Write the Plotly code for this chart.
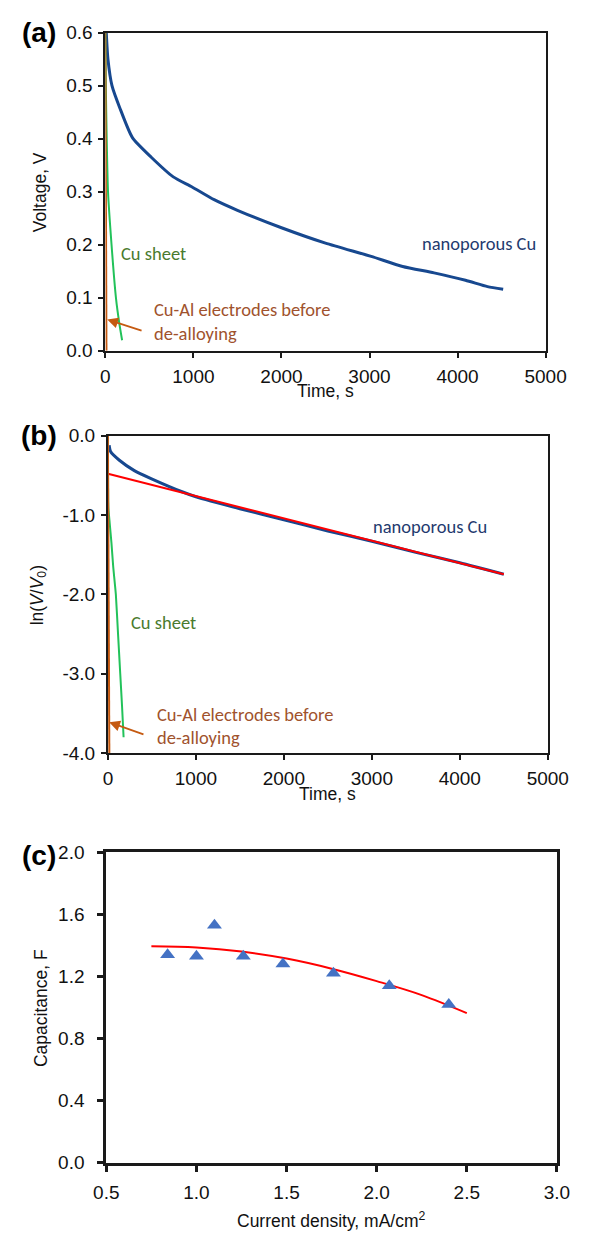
import plotly.graph_objects as go

W, H = 593, 1239

# ---------------- Panel (a): Voltage vs time ----------------
a_np_t = [10, 29, 75, 164, 307, 521, 771, 985, 1235, 1500, 2000, 2500, 3019, 3376, 3733, 4090, 4340, 4518]
a_np_v = [0.600, 0.550, 0.500, 0.458, 0.402, 0.365, 0.328, 0.309, 0.285, 0.265, 0.232, 0.203, 0.178, 0.159, 0.147, 0.133, 0.121, 0.116]
a_cu_t = [0, 5, 15, 30, 70, 120, 160, 190]
a_cu_v = [0.60, 0.50, 0.40, 0.30, 0.20, 0.10, 0.05, 0.02]
a_al_t = [0, 3, 6, 9, 12]
a_al_v = [0.60, 0.40, 0.20, 0.05, 0.00]

# ---------------- Panel (b): ln(V/V0) vs time ----------------
b_np_t = [14, 30, 130, 300, 490, 850, 1000, 1500, 2000, 2500, 3000, 3500, 4000, 4500]
b_np_l = [-0.12, -0.20, -0.31, -0.44, -0.54, -0.71, -0.77, -0.92, -1.06, -1.20, -1.33, -1.47, -1.60, -1.745]
b_fit_t = [0, 4500]
b_fit_l = [-0.48, -1.745]
b_cu_t = [0, 5, 20, 40, 60, 90, 115, 140, 160, 178]
b_cu_l = [0.0, -0.9, -1.1, -1.35, -1.65, -2.0, -2.5, -3.0, -3.4, -3.8]
b_al_t = [0, 4, 8, 12, 16]
b_al_l = [0.0, -1.0, -2.0, -3.0, -4.0]

# ---------------- Panel (c): capacitance vs current density ----------------
c_j = [0.84, 1.00, 1.10, 1.26, 1.48, 1.76, 2.07, 2.40]
c_cap = [1.34, 1.33, 1.53, 1.33, 1.28, 1.22, 1.14, 1.02]
c_fit_j = [0.75, 1.00, 1.25, 1.50, 1.75, 2.00, 2.25, 2.50]
c_fit_cap = [1.394, 1.386, 1.360, 1.315, 1.250, 1.170, 1.080, 0.964]

time_ticks = [0, 1000, 2000, 3000, 4000, 5000]
a_yticks = [0.0, 0.1, 0.2, 0.3, 0.4, 0.5, 0.6]
b_yticks = [0.0, -1.0, -2.0, -3.0, -4.0]
b_yticktext = ['0.0', '-1.0', '-2.0', '-3.0', '-4.0']
c_xticks = [0.5, 1.0, 1.5, 2.0, 2.5, 3.0]
c_yticks = [0.0, 0.4, 0.8, 1.2, 1.6, 2.0]

BLUE = '#17488F'
GREEN = '#22C25A'
BROWN = '#C55A11'
RED = '#FF0000'
TXT_GREEN = '#4A7A2E'
TXT_BROWN = '#A0522D'
TXT_BLUE = '#1F3A6E'
ARIAL = 'Arial, Liberation Sans, sans-serif'
TICKFONT = dict(family=ARIAL, size=19, color='#111111')
ANNFONT = 'Carlito, Lato, sans-serif'
ANN_SIZE = 18.5


def px(x):
    return x / W


def py(y):
    return 1 - y / H


fig = go.Figure()

fig.add_trace(go.Scatter(x=a_np_t, y=a_np_v, mode='lines', line=dict(color=BLUE, width=3, shape='spline', smoothing=0.6), xaxis='x', yaxis='y'))
fig.add_trace(go.Scatter(x=a_cu_t, y=a_cu_v, mode='lines', line=dict(color=GREEN, width=2, shape='spline', smoothing=0.5), xaxis='x', yaxis='y'))
fig.add_trace(go.Scatter(x=a_al_t, y=a_al_v, mode='lines', line=dict(color=BROWN, width=2), xaxis='x', yaxis='y'))

fig.add_trace(go.Scatter(x=b_np_t, y=b_np_l, mode='lines', line=dict(color=BLUE, width=3, shape='spline', smoothing=0.6), xaxis='x2', yaxis='y2'))
fig.add_trace(go.Scatter(x=b_fit_t, y=b_fit_l, mode='lines', line=dict(color=RED, width=2), xaxis='x2', yaxis='y2'))
fig.add_trace(go.Scatter(x=b_cu_t, y=b_cu_l, mode='lines', line=dict(color=GREEN, width=2, shape='spline', smoothing=0.5), xaxis='x2', yaxis='y2'))
fig.add_trace(go.Scatter(x=b_al_t, y=b_al_l, mode='lines', line=dict(color=BROWN, width=2), xaxis='x2', yaxis='y2'))

fig.add_trace(go.Scatter(x=c_fit_j, y=c_fit_cap, mode='lines', line=dict(color=RED, width=2, shape='spline'), xaxis='x3', yaxis='y3'))
fig.add_trace(go.Scatter(x=c_j, y=c_cap, mode='markers', marker=dict(symbol='triangle-up', size=13, color='#4472C4'), xaxis='x3', yaxis='y3'))

common_ax = dict(showgrid=False, zeroline=False, showline=True, mirror=True, linecolor='#1a1a1a',
                 ticks='outside', tickcolor='#1a1a1a', tickfont=TICKFONT)

fig.update_layout(
    width=W, height=H, margin=dict(l=0, r=0, t=0, b=0),
    paper_bgcolor='white', plot_bgcolor='white', showlegend=False,
    xaxis=dict(domain=[px(98), px(565)], range=[0, 5000], tickvals=time_ticks, anchor='y',
               linewidth=2, ticklen=5, tickwidth=1.5, ticklabelstandoff=2, **common_ax),
    yaxis=dict(domain=[py(346.7), py(23)], range=[0, 0.6], tickvals=a_yticks, tickformat='.1f', anchor='x',
               linewidth=2, ticklen=5, tickwidth=1.5, ticklabelstandoff=2, **common_ax),
    xaxis2=dict(domain=[px(100.7), px(567.3)], range=[0, 5000], tickvals=time_ticks, anchor='y2',
                linewidth=2, ticklen=5, tickwidth=1.5, ticklabelstandoff=2, **common_ax),
    yaxis2=dict(domain=[py(756), py(433)], range=[-4, 0], tickvals=b_yticks, ticktext=b_yticktext, anchor='x2',
                linewidth=2, ticklen=5, tickwidth=1.5, ticklabelstandoff=2, **common_ax),
    xaxis3=dict(domain=[px(99), px(577)], range=[0.5, 3.0], tickvals=c_xticks, tickformat='.1f', anchor='y3',
                linewidth=3, ticklen=6, tickwidth=2.5, ticklabelstandoff=4, **common_ax),
    yaxis3=dict(domain=[py(1172.7), py(856.7)], range=[0, 2.0], tickvals=c_yticks, tickformat='.1f', anchor='x3',
                linewidth=3, ticklen=6, tickwidth=2.5, ticklabelstandoff=9, **common_ax),
)

AXT = dict(family=ARIAL, size=17.5, color='#111111')
CEN = dict(xref='paper', yref='paper', xanchor='center', yanchor='middle', showarrow=False)
ann = []
# panel letters
for lab, yy in [('(a)', 23), ('(b)', 433), ('(c)', 860)]:
    ann.append(dict(text='<b>%s</b>' % lab, x=px(28), y=py(yy),
                    font=dict(family=ARIAL, size=28, color='#000000'), **CEN))
# axis titles
ann.append(dict(text='Time, s', x=px(332), y=py(388), font=AXT, **CEN))
ann.append(dict(text='Time, s', x=px(334), y=py(798), font=AXT, **CEN))
ann.append(dict(text='Current density, mA/cm<sup>2</sup>', x=px(338), y=py(1231), font=AXT, **CEN))
ann.append(dict(text='Voltage, V', x=px(28), y=py(185), textangle=-90, font=AXT, **CEN))
ann.append(dict(text='ln(<i>V</i>/<i>V</i><sub>0</sub>)', x=px(27), y=py(595), textangle=-90, font=AXT, **CEN))
ann.append(dict(text='Capacitance, F', x=px(30), y=py(1015), textangle=-90, font=AXT, **CEN))

LFT = dict(xanchor='left', yanchor='middle', showarrow=False)
# panel (a) labels
ann.append(dict(text='Cu sheet', x=150, y=0.183, xref='x', yref='y',
                font=dict(family=ANNFONT, size=ANN_SIZE, color=TXT_GREEN), **LFT))
ann.append(dict(text='nanoporous Cu', x=3576, y=0.202, xref='x', yref='y',
                font=dict(family=ANNFONT, size=ANN_SIZE, color=TXT_BLUE), **LFT))
ann.append(dict(text='Cu-Al electrodes before', x=535, y=0.077, xref='x', yref='y',
                font=dict(family=ANNFONT, size=ANN_SIZE, color=TXT_BROWN), **LFT))
ann.append(dict(text='de-alloying', x=535, y=0.033, xref='x', yref='y',
                font=dict(family=ANNFONT, size=ANN_SIZE, color=TXT_BROWN), **LFT))
ann.append(dict(text='', x=21, y=0.059, ax=428, ay=0.037, xref='x', yref='y', axref='x', ayref='y',
                showarrow=True, arrowhead=2, arrowsize=1.2, arrowwidth=1.8, arrowcolor=BROWN))

# panel (b) labels
ann.append(dict(text='Cu sheet', x=239, y=-2.35, xref='x2', yref='y2',
                font=dict(family=ANNFONT, size=ANN_SIZE, color=TXT_GREEN), **LFT))
ann.append(dict(text='nanoporous Cu', x=2994, y=-1.14, xref='x2', yref='y2',
                font=dict(family=ANNFONT, size=ANN_SIZE, color=TXT_BLUE), **LFT))
ann.append(dict(text='Cu-Al electrodes before', x=536, y=-3.51, xref='x2', yref='y2',
                font=dict(family=ANNFONT, size=ANN_SIZE, color=TXT_BROWN), **LFT))
ann.append(dict(text='de-alloying', x=536, y=-3.80, xref='x2', yref='y2',
                font=dict(family=ANNFONT, size=ANN_SIZE, color=TXT_BROWN), **LFT))
ann.append(dict(text='', x=14, y=-3.61, ax=421, ay=-3.77, xref='x2', yref='y2', axref='x2', ayref='y2',
                showarrow=True, arrowhead=2, arrowsize=1.2, arrowwidth=1.8, arrowcolor=BROWN))

fig.update_layout(annotations=ann)
fig.write_html('out.html', config={'displayModeBar': False},
               post_script="document.body.style.margin='0px';")
